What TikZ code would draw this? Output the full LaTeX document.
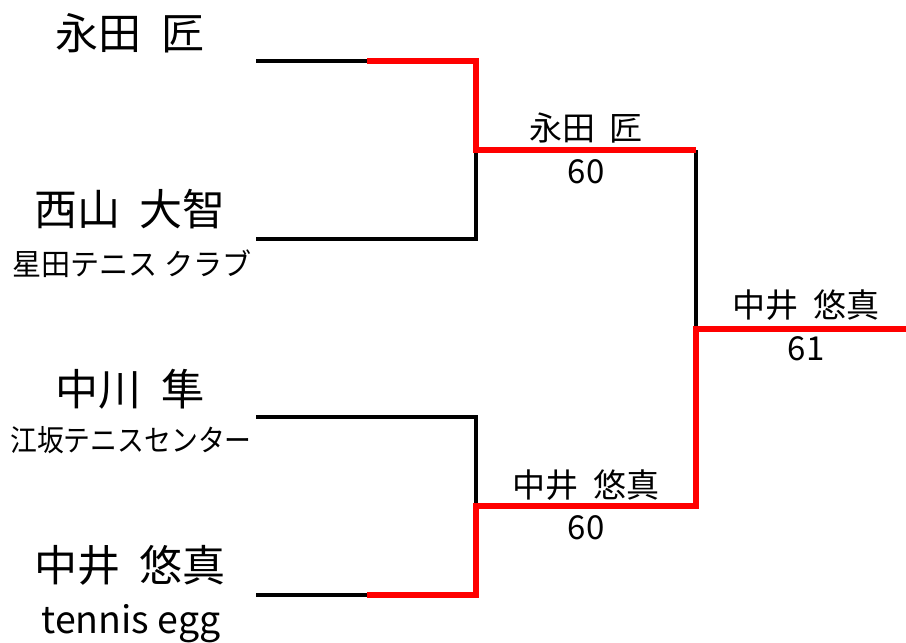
\documentclass[tikz,border=0pt]{standalone}
\usepackage{fontspec}
\setmainfont{Noto Sans CJK JP}
\newfontfamily\jp{Noto Sans CJK JP}
\newcommand\gapsp{\hspace{0.45em}}
\begin{document}
\begin{tikzpicture}[x=1pt,y=-1pt,
  big/.style={font=\jp\fontsize{43}{43}\selectfont, inner sep=0pt, anchor=center},
  club/.style={font=\jp\fontsize{30}{30}\selectfont, inner sep=0pt, anchor=center},
  win/.style={font=\jp\fontsize{33}{33}\selectfont, inner sep=0pt, anchor=center},
  latin/.style={font=\jp\fontsize{37.5}{37.5}\selectfont, inner sep=0pt, anchor=base},
  loser/.style={line width=3.5pt, draw=black, line join=miter},
  winner/.style={line width=6.5pt, draw=red, line join=miter}]
\useasboundingbox (0,0) rectangle (906,643);
\fill[white] (0,0) rectangle (906,643);
% players
\node[big] (p1) at (130,33) {永田\gapsp 匠};
\node[big] (p2) at (130,209) {西山\gapsp 大智};
\node[club] (c2) at (132,264) {\scalebox{0.97}[1]{星田テニス クラブ}};
\node[big] (p3) at (130,389) {中川\gapsp 隼};
\node[club] (c3) at (131,440) {\scalebox{0.895}[1]{江坂テニスセンター}};
\node[big] (p4) at (130,565) {中井\gapsp 悠真};
\node[latin] (c4) at (131,633) {tennis egg};
% winners
\node[win] (w1) at (586,128) {永田\gapsp 匠};
\node[win] (s1) at (586,172) {60};
\node[win] (w2) at (586,485) {中井\gapsp 悠真};
\node[win] (s2) at (586,528) {60};
\node[win] (w3) at (806,305) {中井\gapsp 悠真};
\node[win] (s3) at (806,349) {61};
% coordinates
\coordinate (a1) at (256,61);
\coordinate (m1) at (367,61);
\coordinate (a2) at (256,239);
\coordinate (a3) at (256,417);
\coordinate (a4) at (256,595);
\coordinate (m4) at (367,595);
\coordinate (j1t) at (476,61);
\coordinate (j1b) at (476,239);
\coordinate (j1) at (476,150);
\coordinate (j2t) at (476,417);
\coordinate (j2b) at (476,595);
\coordinate (j2) at (476,506);
\coordinate (k1) at (696,150);
\coordinate (k2) at (696,506);
\coordinate (k) at (696,329);
\coordinate (e) at (906,329);
% black lines
\draw[loser] (a1) -- (m1);
\draw[loser] (a2) -- (j1b) -- (j1);
\draw[loser] (a3) -- (j2t) -- (j2);
\draw[loser] (a4) -- (m4);
\draw[loser] (k1) -- (k);
% red lines
\draw[winner] (m1) -- (j1t) -- (j1) -- (k1);
\draw[winner] (m4) -- (j2b) -- (j2) -- (k2) -- (k) -- (e);
\end{tikzpicture}
\end{document}
